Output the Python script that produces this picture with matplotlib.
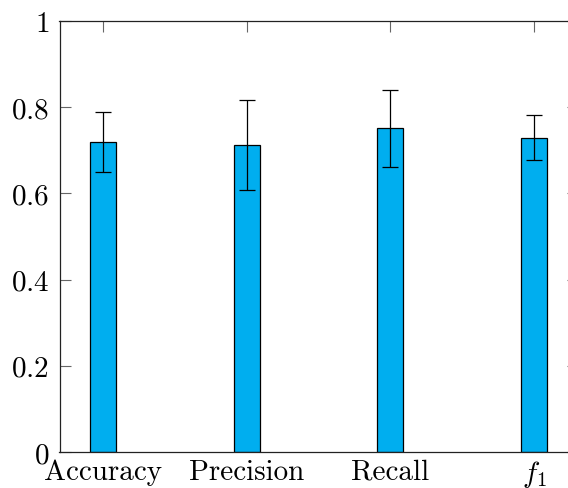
import matplotlib
matplotlib.use('Agg')
import matplotlib.pyplot as plt

# Datos
metricas = ['Accuracy', 'Precision', 'Recall', '$f_1$']
medias = [0.72, 0.712, 0.751, 0.729]
errores = [0.07, 0.105, 0.09, 0.052]
yticks = [0, 0.2, 0.4, 0.6, 0.8, 1]
ytick_labels = ['$0$', '$0.2$', '$0.4$', '$0.6$', '$0.8$', '$1$']

plt.rcParams['font.family'] = 'cmr10'
plt.rcParams['mathtext.fontset'] = 'cm'
plt.rcParams['axes.unicode_minus'] = False

fig = plt.figure(figsize=(5.68, 4.89), dpi=100)
ax = fig.add_axes([59.5 / 568, 36 / 489, 518 / 568, 431 / 489])

x = list(range(len(metricas)))
ax.bar(x, medias, width=0.18, color='#00AEEF', edgecolor='black', linewidth=0.9,
       yerr=errores, capsize=5.5, error_kw={'elinewidth': 0.9, 'capthick': 0.9, 'ecolor': 'black'},
       zorder=2)

ax.set_xlim(-0.3, 3.3)
ax.set_ylim(0, 1)
ax.set_xticks(x)
ax.set_xticklabels(metricas)
ax.set_yticks(yticks)
ax.set_yticklabels(ytick_labels)

ax.tick_params(direction='in', length=8, width=0.8, color='#666666',
               top=True, right=True, labelsize=21)
ax.tick_params(axis='y', pad=7.5)
ax.tick_params(axis='x', pad=4.5)
for s in ax.spines.values():
    s.set_linewidth(0.9)
    s.set_color('#222222')

fig.savefig('out.png', dpi=100)
